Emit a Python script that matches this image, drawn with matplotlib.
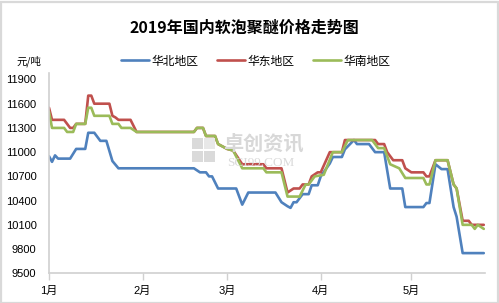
import matplotlib
matplotlib.use('Agg')
import matplotlib.pyplot as plt
from matplotlib.patches import Rectangle
import datetime as dt

plt.rcParams['font.family'] = ['Liberation Sans', 'Noto Sans CJK SC', 'DejaVu Sans']

title = '2019年国内软泡聚醚价格走势图'
unit = '元/吨'
series_names = ['华北地区', '华东地区', '华南地区']
colors = ['#4f81bd', '#c0504d', '#9bbb59']

month_ticks = ['01-01', '02-01', '03-01', '04-01', '05-01']
month_labels = ['1月', '2月', '3月', '4月', '5月']
y_ticks = [9500, 9800, 10100, 10400, 10700, 11000, 11300, 11600, 11900]

north_dates = ['01-01', '01-02', '01-03', '01-04', '01-08', '01-10', '01-13', '01-14', '01-16',
               '01-18', '01-20', '01-22', '01-24', '02-18', '02-20', '02-22', '02-23', '02-24',
               '02-26', '03-04', '03-06', '03-08', '03-17', '03-19', '03-21', '03-22', '03-23',
               '03-24', '03-26', '03-28', '03-29', '03-31', '04-01', '04-04', '04-05', '04-08',
               '04-09', '04-12', '04-13', '04-17', '04-19', '04-22', '04-24', '04-28', '04-29',
               '05-05', '05-06', '05-07', '05-09', '05-11', '05-13', '05-15', '05-16', '05-18',
               '05-25']
north_vals = [10950, 10880, 10960, 10920, 10920, 11040, 11040, 11240, 11240,
              11140, 11140, 10890, 10800, 10800, 10750, 10750, 10700, 10700,
              10550, 10550, 10350, 10500, 10500, 10380, 10330, 10310, 10380,
              10380, 10480, 10480, 10590, 10590, 10700, 10860, 10940, 10940,
              11035, 11150, 11100, 11100, 11000, 11000, 10550, 10550, 10320,
              10320, 10370, 10370, 10850, 10790, 10790, 10320, 10200, 9750,
              9750]

east_dates = ['01-01', '01-02', '01-06', '01-08', '01-09', '01-10', '01-13', '01-14', '01-15',
              '01-16', '01-21', '01-22', '01-23', '01-24', '01-28', '01-30', '02-18', '02-19',
              '02-21', '02-22', '02-25', '02-26', '02-27', '03-01', '03-03', '03-06', '03-13',
              '03-14', '03-19', '03-21', '03-23', '03-25', '03-26', '03-28', '03-29', '03-31',
              '04-01', '04-04', '04-08', '04-09', '04-19', '04-20', '04-22', '04-23', '04-25',
              '04-28', '04-29', '05-01', '05-05', '05-06', '05-07', '05-09', '05-13', '05-15',
              '05-16', '05-18', '05-20', '05-21', '05-25']
east_vals = [11550, 11400, 11400, 11300, 11300, 11350, 11350, 11700, 11700,
             11600, 11600, 11450, 11430, 11400, 11400, 11250, 11250, 11300,
             11300, 11200, 11200, 11100, 11080, 11040, 11020, 10850, 10850,
             10800, 10800, 10500, 10550, 10550, 10600, 10600, 10700, 10750,
             10750, 11000, 11000, 11150, 11150, 11100, 11100, 11000, 10900,
             10900, 10800, 10750, 10750, 10700, 10700, 10900, 10900, 10600,
             10550, 10150, 10150, 10100, 10100]

south_dates = ['01-01', '01-02', '01-06', '01-07', '01-09', '01-10', '01-13', '01-14', '01-15',
               '01-16', '01-21', '01-22', '01-24', '01-25', '01-28', '01-30', '02-18', '02-19',
               '02-21', '02-22', '02-25', '02-26', '02-27', '03-01', '03-03', '03-06', '03-13',
               '03-14', '03-19', '03-21', '03-25', '03-27', '03-28', '03-30', '04-02', '04-05',
               '04-08', '04-10', '04-18', '04-20', '04-22', '04-24', '04-27', '04-29', '05-05',
               '05-06', '05-07', '05-09', '05-13', '05-15', '05-16', '05-18', '05-21', '05-22',
               '05-23', '05-25']
south_vals = [11500, 11300, 11300, 11250, 11250, 11350, 11350, 11550, 11550,
              11450, 11450, 11350, 11350, 11300, 11300, 11250, 11250, 11300,
              11300, 11200, 11200, 11100, 11080, 11040, 11020, 10800, 10800,
              10750, 10750, 10450, 10450, 10600, 10600, 10700, 10720, 11000,
              11000, 11150, 11150, 11050, 11050, 10850, 10800, 10680, 10680,
              10600, 10600, 10900, 10900, 10600, 10550, 10100, 10100, 10050,
              10100, 10050]


def to_day(s):
    m, d = s.split('-')
    return (dt.date(2019, int(m), int(d)) - dt.date(2019, 1, 1)).days


W, H = 499, 303
fig = plt.figure(figsize=(W / 100, H / 100), dpi=100)
fig.patches.append(Rectangle((0.5 / W, 0.5 / H), 1 - 2 / W, 1 - 2 / H, transform=fig.transFigure,
                             fill=False, edgecolor='#d9d9d9', linewidth=1.6))

left, right, top, bottom = 49, 485, 73, 273.3
ax = fig.add_axes([left / W, (H - bottom) / H, (right - left) / W, (bottom - top) / H])

for dates, vals, name, c in zip([north_dates, east_dates, south_dates],
                                [north_vals, east_vals, south_vals], series_names, colors):
    ax.plot([to_day(s) for s in dates], vals, color=c, lw=1.9, label=name,
            solid_joinstyle='round', solid_capstyle='round')

ax.set_xlim(0, 144.4)
ax.set_ylim(9500, 11980)
ax.set_yticks(y_ticks)
ax.set_yticklabels([str(v) for v in y_ticks], fontsize=8)
ax.set_xticks([to_day(s) for s in month_ticks])
ax.set_xticklabels(month_labels, fontsize=8)
ax.tick_params(axis='y', length=0, pad=9)
ax.tick_params(axis='x', length=5, width=1, color='#d0d0d0', pad=4, direction='out')
for s in ['top', 'right']:
    ax.spines[s].set_visible(False)
for s in ['left', 'bottom']:
    ax.spines[s].set_color('#d0d0d0')
    ax.spines[s].set_linewidth(1.2)

# watermark
logo_x, logo_y = 192, 138
for (dx, dy, col) in [(0, 0, '#dadada'), (12, 0, '#e8e8e8'), (0, 13, '#dadada'), (12, 13, '#dadada')]:
    fig.patches.append(Rectangle(((logo_x + dx) / W, 1 - (logo_y + dy + 11) / H), 10.5 / W, 11 / H,
                                 transform=fig.transFigure, facecolor=col, edgecolor='none', zorder=0))
fig.text(263 / W, 1 - 143 / H, '卓创资讯', ha='center', va='center', fontsize=14.5, color='#d8d8d8',
         family=['Noto Sans CJK SC'], fontweight='bold', zorder=0)
fig.text(261 / W, 1 - 163.5 / H, 'SCI99.COM', ha='center', va='center', fontsize=9.5, color='#dadada',
         family=['Liberation Serif'], zorder=0)
ax.set_facecolor('none')

fig.text(244 / W, 1 - 27.5 / H, title, ha='center', va='center', fontsize=11.5, fontweight='bold',
         family=['Noto Sans CJK SC', 'DejaVu Sans'])
fig.text(29 / W, 1 - 61 / H, unit, ha='center', va='center', fontsize=7.5,
         family=['Noto Sans CJK SC', 'DejaVu Sans'])

handles, labels = ax.get_legend_handles_labels()
leg = fig.legend(handles, labels, loc='center', bbox_to_anchor=(256 / W, 1 - 61 / H), ncol=3,
                 frameon=False, prop={'family': 'Noto Sans CJK SC', 'size': 8.5},
                 handlelength=2.3, handletextpad=0.25, columnspacing=1.6, borderpad=0)

fig.savefig('out.png', dpi=100, facecolor='white')
